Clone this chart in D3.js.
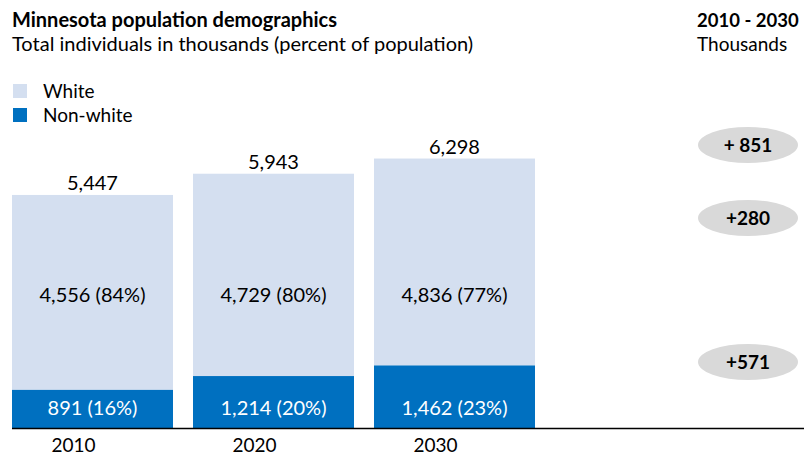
<!DOCTYPE html>
<html>
<head>
<meta charset="utf-8">
<script src="https://cdn.jsdelivr.net/npm/d3@7"></script>
<style>
  html, body { margin: 0; padding: 0; background: #fff; }
  svg { display: block; font-family: Lato, "Open Sans", sans-serif; }
</style>
</head>
<body>
<svg id="chart" width="804" height="456"></svg>
<script>
const years = ["2010", "2020", "2030"];
const white = [4556, 4729, 4836];
const nonWhite = [891, 1214, 1462];
const totals = [5447, 5943, 6298];
const whitePct = ["84%", "80%", "77%"];
const nonWhitePct = ["16%", "20%", "23%"];
const changeLabels = ["+ 851", "+280", "+571"];
const seriesNames = ["White", "Non-white"];
const colors = ["#d4dff0", "#0070c0"];

const fmt = d3.format(",");
const svg = d3.select("#chart");

const x = d3.scaleBand().domain(years).range([12, 535]).paddingInner(20 / 181).paddingOuter(0);
const y = d3.scaleLinear().domain([0, 7000]).range([428, 128.5]);

// Title
svg.append("text").attr("x", 12).attr("y", 27).attr("font-size", 20).attr("font-weight", 700)
  .attr("fill", "#000").text("Minnesota population demographics");
svg.append("text").attr("x", 12).attr("y", 51).attr("font-size", 20)
  .attr("fill", "#000").text("Total individuals in thousands (percent of population)");
svg.append("text").attr("x", 697).attr("y", 27).attr("font-size", 18.5).attr("font-weight", 700)
  .attr("fill", "#000").text("2010 - 2030");
svg.append("text").attr("x", 697).attr("y", 51).attr("font-size", 19)
  .attr("fill", "#000").text("Thousands");

// Legend
const legend = svg.append("g");
seriesNames.forEach((name, i) => {
  legend.append("rect").attr("x", 13).attr("y", 84 + i * 24).attr("width", 14).attr("height", 14).attr("fill", colors[i]);
  legend.append("text").attr("x", 43).attr("y", 98 + i * 24).attr("font-size", 19).attr("fill", "#000").text(name);
});

// Bars
const data = years.map((yr, i) => ({ yr, w: white[i], n: nonWhite[i], t: totals[i], wp: whitePct[i], np: nonWhitePct[i] }));
const g = svg.append("g");
g.selectAll("rect.w").data(data).join("rect").attr("class", "w")
  .attr("x", d => x(d.yr)).attr("width", x.bandwidth())
  .attr("y", d => y(d.n + d.w)).attr("height", d => y(d.n) - y(d.n + d.w))
  .attr("fill", colors[0]);
g.selectAll("rect.n").data(data).join("rect").attr("class", "n")
  .attr("x", d => x(d.yr)).attr("width", x.bandwidth())
  .attr("y", d => y(d.n)).attr("height", d => y(0) - y(d.n))
  .attr("fill", colors[1]);

// Labels
g.selectAll("text.t").data(data).join("text").attr("class", "t")
  .attr("x", d => x(d.yr) + x.bandwidth() / 2).attr("y", d => y(d.t) - 5)
  .attr("text-anchor", "middle").attr("font-size", 20).attr("fill", "#000")
  .text(d => fmt(d.t));
g.selectAll("text.wl").data(data).join("text").attr("class", "wl")
  .attr("x", d => x(d.yr) + x.bandwidth() / 2).attr("y", 302)
  .attr("text-anchor", "middle").attr("font-size", 20).attr("fill", "#000")
  .text(d => `${fmt(d.w)} (${d.wp})`);
g.selectAll("text.nl").data(data).join("text").attr("class", "nl")
  .attr("x", d => x(d.yr) + x.bandwidth() / 2).attr("y", 415)
  .attr("text-anchor", "middle").attr("font-size", 20).attr("fill", "#fff")
  .text(d => `${fmt(d.n)} (${d.np})`);

// Axis line
svg.append("line").attr("x1", 12).attr("x2", 804).attr("y1", 428.5).attr("y2", 428.5)
  .attr("stroke", "#000").attr("stroke-width", 1.5);

// Year labels
g.selectAll("text.yr").data(data).join("text").attr("class", "yr")
  .attr("x", d => x(d.yr) + x.bandwidth() / 2 - 19).attr("y", 452)
  .attr("text-anchor", "middle").attr("font-size", 19).attr("fill", "#000")
  .text(d => d.yr);

// Change ellipses
const ellY = [145, 218, 362];
const ann = svg.append("g");
changeLabels.forEach((lab, i) => {
  ann.append("ellipse").attr("cx", 748).attr("cy", ellY[i]).attr("rx", 50).attr("ry", 18).attr("fill", "#d9d9d9");
  ann.append("text").attr("x", 748).attr("y", ellY[i] + 6.5).attr("text-anchor", "middle")
    .attr("font-size", 19).attr("font-weight", 700).attr("fill", "#000").text(lab);
});
</script>
</body>
</html>
